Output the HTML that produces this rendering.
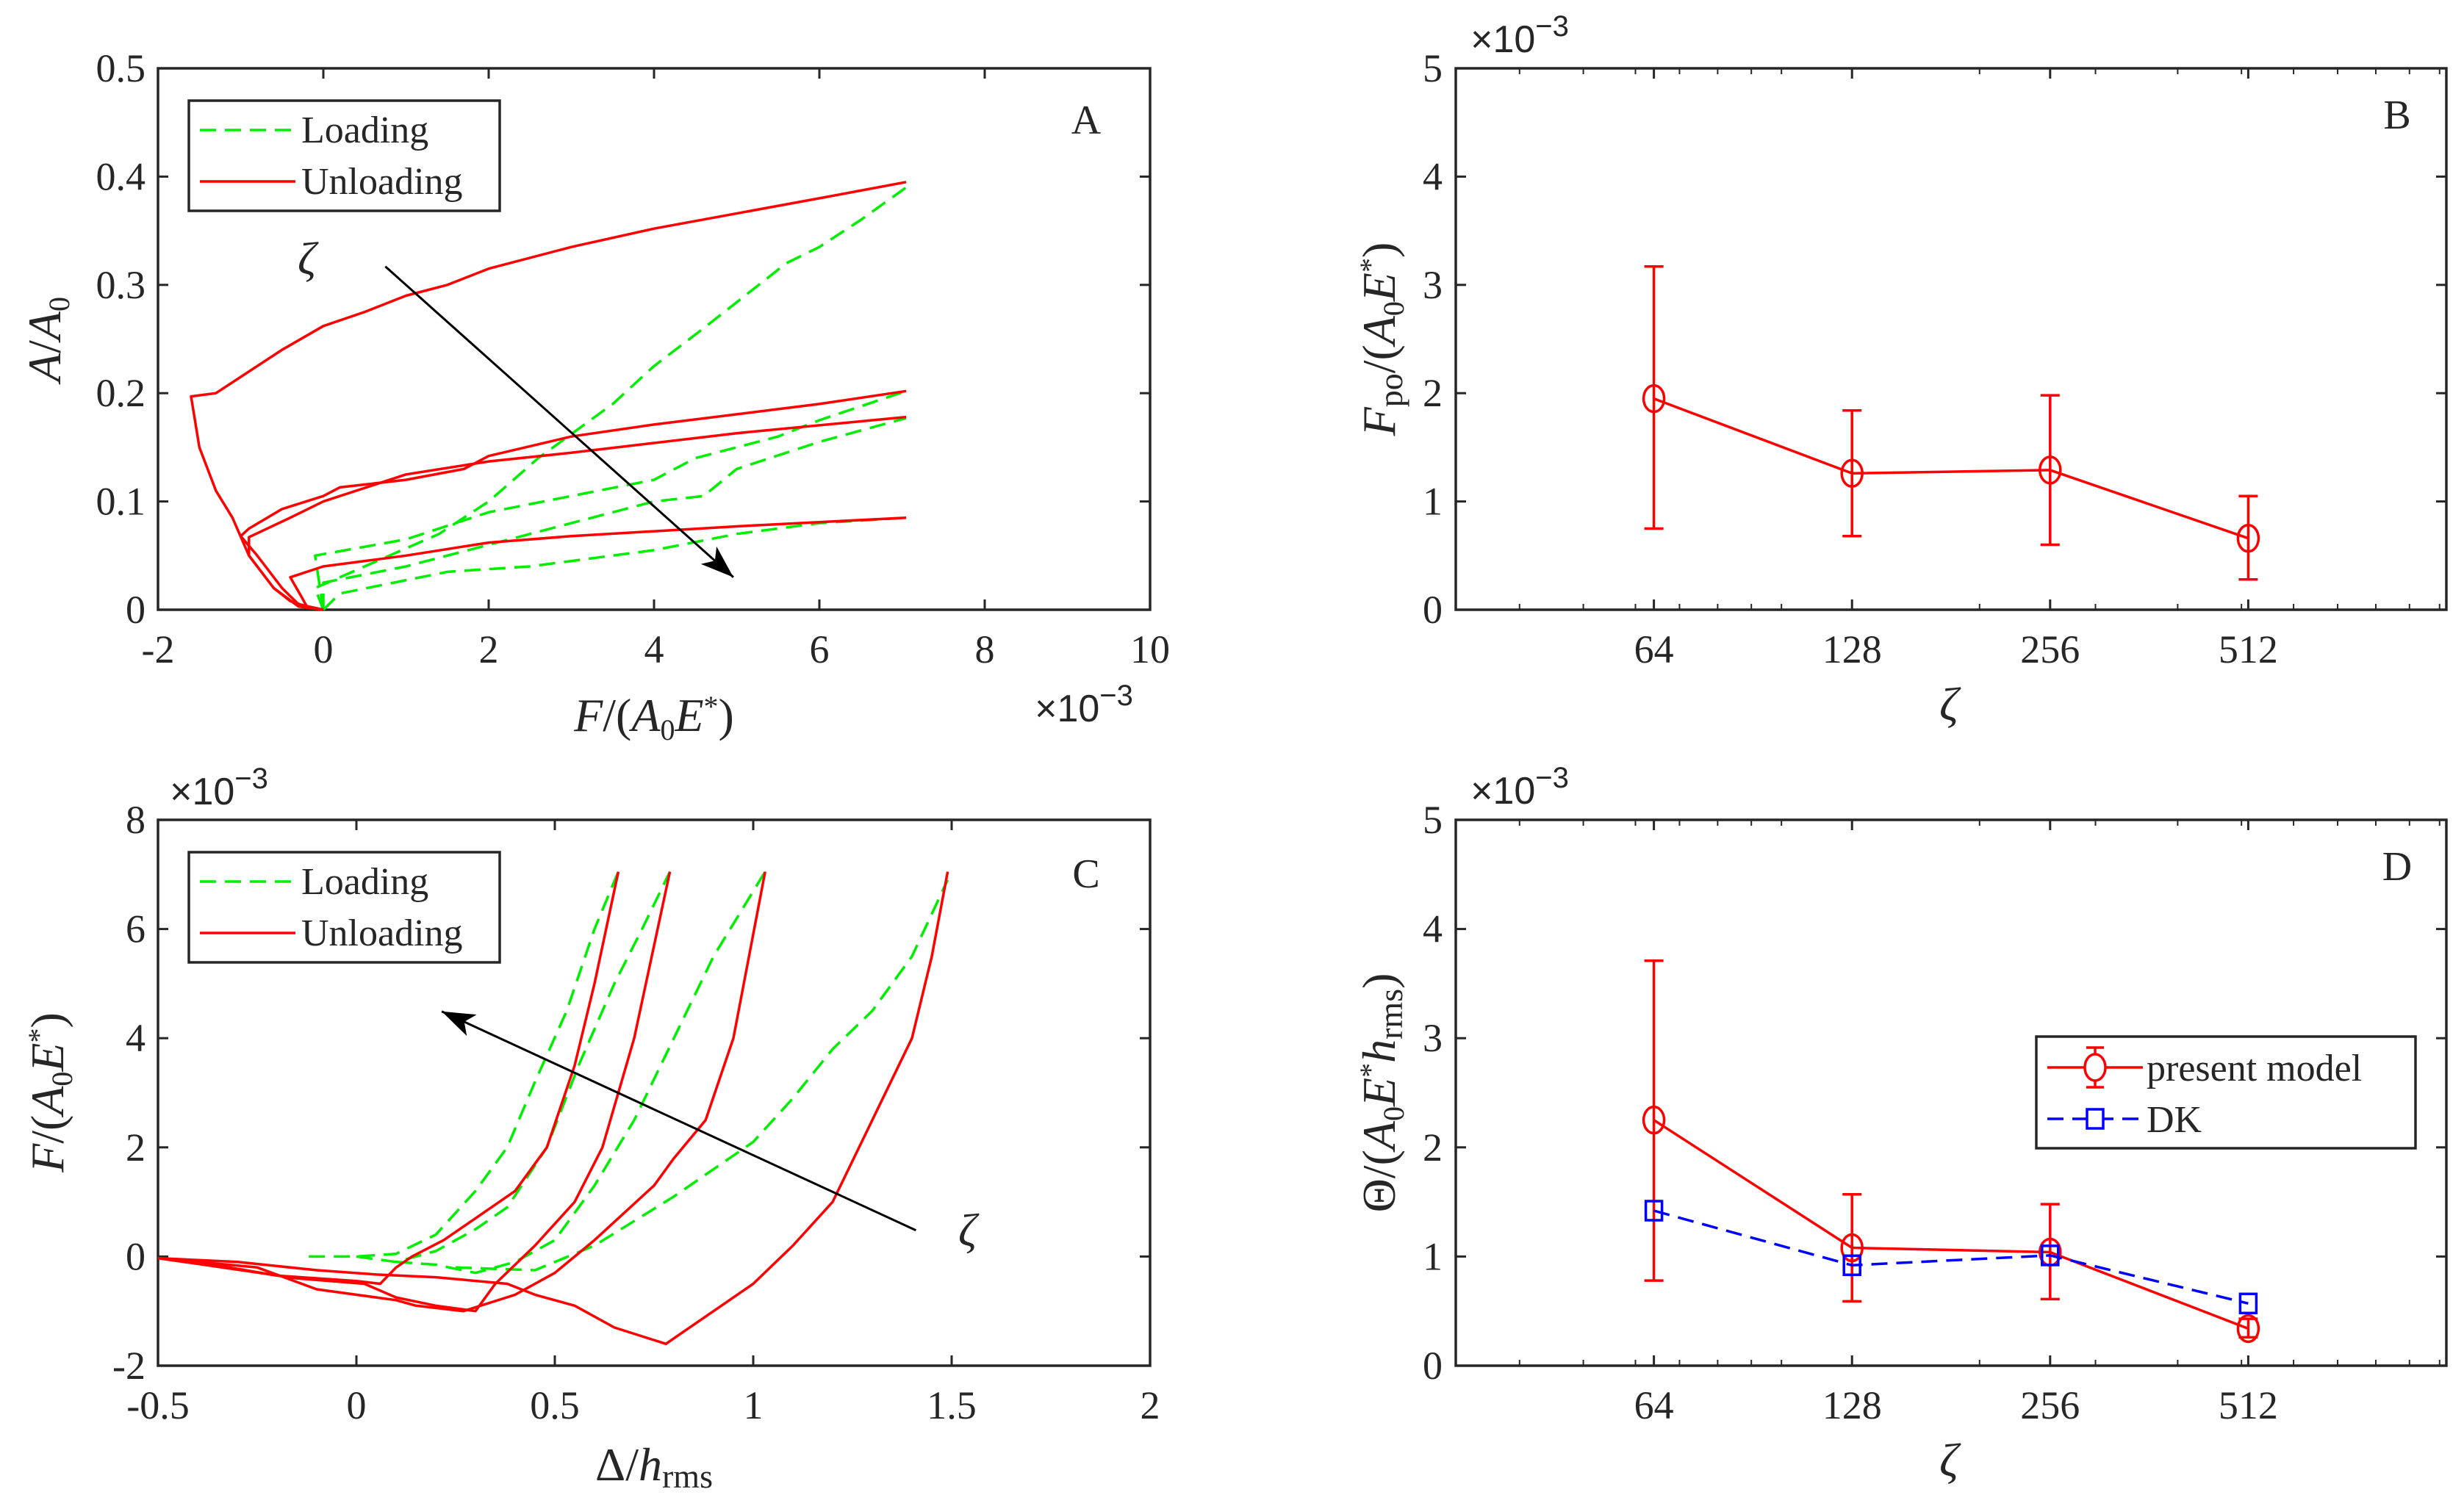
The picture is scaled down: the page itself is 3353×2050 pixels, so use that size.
<!DOCTYPE html>
<html><head><meta charset="utf-8"><style>
html,body{margin:0;padding:0;background:#fff;width:3353px;height:2050px;overflow:hidden}
svg text{font-family:"Liberation Serif",serif;fill:#262626}
</style></head><body>
<svg id="fig" width="3353" height="2050" viewBox="0 0 3353 2050" xmlns="http://www.w3.org/2000/svg"></svg>
<script>
// ---------- DATA ----------
const zetaCats = [64,128,256,512];
const fpoMean = [1.95,1.26,1.29,0.66];
const fpoLow  = [0.75,0.68,0.60,0.28];
const fpoHigh = [3.17,1.84,1.98,1.05];
const thetaMean = [2.25,1.08,1.04,0.34];
const thetaLow  = [0.78,0.59,0.61,0.26];
const thetaHigh = [3.71,1.57,1.48,0.43];
const dkValues  = [1.42,0.92,1.01,0.57];

const aUnload1X=[7.05,6,4,3,2,1.5,1,0.5,0,-0.5,-1,-1.3,-1.6,-1.5,-1.3,-1.1,-0.9,-0.6,-0.4,-0.2,0];
const aUnload1Y=[0.395,0.38,0.352,0.335,0.315,0.30,0.29,0.275,0.262,0.24,0.215,0.20,0.197,0.15,0.11,0.085,0.05,0.02,0.008,0.003,0];
const aUnload2X=[7.05,6,4,3,2,1.7,1,0.2,0,-0.5,-0.9,-1.0,-0.8,-0.5,-0.3,0];
const aUnload2Y=[0.202,0.19,0.171,0.16,0.142,0.13,0.12,0.113,0.105,0.093,0.075,0.068,0.05,0.02,0.005,0];
const aUnload3X=[7.05,5,3,2,1,0,-0.4,-0.9,-0.9,-0.6,-0.3,0];
const aUnload3Y=[0.178,0.163,0.145,0.137,0.125,0.10,0.085,0.067,0.05,0.02,0.003,0];
const aUnload4X=[7.05,5,3,2,1,0,-0.4,-0.25,-0.2,0];
const aUnload4Y=[0.085,0.077,0.068,0.062,0.05,0.04,0.03,0.01,0.003,0];
const aLoad1X=[0,-0.1,0.5,1.4,2,2.6,3.5,4,4.6,5.1,5.6,6,6.5,7.05];
const aLoad1Y=[0,0.02,0.04,0.07,0.1,0.14,0.19,0.225,0.26,0.29,0.32,0.335,0.36,0.39];
const aLoad2X=[0,-0.1,1,2,3,4,4.5,5.5,6,7.05];
const aLoad2Y=[0,0.05,0.065,0.09,0.105,0.12,0.14,0.16,0.175,0.202];
const aLoad3X=[0,0,1,2,3,4,4.6,5,6,7.05];
const aLoad3Y=[0,0.025,0.04,0.06,0.08,0.1,0.105,0.13,0.155,0.177];
const aLoad4X=[0,0.2,1.5,2.5,4,5,6,7.05];
const aLoad4Y=[0,0.015,0.035,0.04,0.055,0.07,0.08,0.085];

const cUnload1X=[0.66,0.6,0.55,0.48,0.4,0.3,0.22,0.14,0.1,0.06,0,-0.2,-0.4,-0.5];
const cUnload1Y=[7.05,5,3.5,2,1.2,0.7,0.3,0,-0.2,-0.5,-0.45,-0.35,-0.1,-0.03];
const cUnload2X=[0.79,0.7,0.62,0.55,0.45,0.35,0.3,0.2,0.1,0.02,-0.15,-0.5];
const cUnload2Y=[7.05,4,2,1,0.2,-0.5,-1.0,-0.9,-0.75,-0.5,-0.4,-0.03];
const cUnload3X=[1.03,0.95,0.88,0.8,0.75,0.6,0.5,0.4,0.27,0.15,0.1,-0.1,-0.25,-0.5];
const cUnload3Y=[7.05,4,2.5,1.8,1.3,0.3,-0.3,-0.7,-1.0,-0.9,-0.8,-0.6,-0.2,-0.03];
const cUnload4X=[1.49,1.45,1.4,1.3,1.2,1.1,1.0,0.9,0.8,0.78,0.65,0.55,0.45,0.38,0.2,0.05,-0.1,-0.3,-0.5];
const cUnload4Y=[7.05,5.5,4,2.5,1,0.2,-0.5,-1.0,-1.5,-1.6,-1.3,-0.9,-0.7,-0.5,-0.38,-0.33,-0.25,-0.1,-0.03];
const cLoad1X=[-0.12,0,0.1,0.2,0.3,0.38,0.45,0.53,0.6,0.66];
const cLoad1Y=[0,0,0.05,0.4,1.2,2,3.2,4.5,6,7.05];
const cLoad2X=[0,0.1,0.2,0.3,0.38,0.48,0.56,0.65,0.72,0.79];
const cLoad2Y=[0,-0.1,0.1,0.5,0.9,2,3.5,5,6,7.05];
const cLoad3X=[0.1,0.2,0.3,0.4,0.5,0.6,0.7,0.8,0.9,1.03];
const cLoad3Y=[-0.1,-0.15,-0.3,-0.1,0.3,1.3,2.5,4,5.5,7.05];
const cLoad4X=[0.25,0.45,0.6,0.8,1.0,1.1,1.2,1.3,1.4,1.49];
const cLoad4Y=[-0.2,-0.25,0.2,1.1,2.1,2.9,3.8,4.5,5.5,6.9];

const aXTicks=[-2,0,2,4,6,8,10], aYTicks=[0,0.1,0.2,0.3,0.4,0.5];
const cXTicks=[-0.5,0,0.5,1,1.5,2], cYTicks=[-2,0,2,4,6,8];
const bYTicks=[0,1,2,3,4,5];
const minorTicks=[40,50,60,70,80,90,100,200,300,400,500,600,700,800,900,1000];

// ---------- helpers ----------
const svg=document.getElementById('fig');
const NS='http://www.w3.org/2000/svg';
const TS=54, AS=64, SW=3.5;
function mk(tag,attrs,parent){const e=document.createElementNS(NS,tag);for(const k in attrs)e.setAttribute(k,attrs[k]);(parent||svg).appendChild(e);return e;}
function txt(s,x,y,size,anchor,parent,style){const t=mk('text',{x:x,y:y,'font-size':size,'text-anchor':anchor||'middle'},parent);if(style)t.setAttribute('style',style);t.innerHTML=s;return t;}
function lin(x0,x1,p0,p1){return v=>p0+(v-x0)/(x1-x0)*(p1-p0);}
function poly(xs,ys,sx,sy,stroke,dash,name,g){const d=xs.map((x,i)=>(i?'L':'M')+sx(x).toFixed(1)+' '+sy(ys[i]).toFixed(1)).join(' ');
 const p=mk('path',{d:d,fill:'none',stroke:stroke,'stroke-width':SW,'stroke-dasharray':dash||'none','stroke-linejoin':'round'},g);
 
 
 return p;}
function frame(L,R,T,B,name){const g=mk('g',{});
 mk('rect',{x:L,y:T,width:R-L,height:B-T,fill:'#fff',stroke:'#262626','stroke-width':3.5},g);return g;}
function xticks(g,ticks,sx,T,B,labels,ly){ticks.forEach((t,i)=>{const x=sx(t);mk('line',{x1:x,x2:x,y1:B,y2:B-14,stroke:'#262626','stroke-width':3},g);mk('line',{x1:x,x2:x,y1:T,y2:T+14,stroke:'#262626','stroke-width':3},g);
 if(labels){const l=txt(labels[i],x,ly,TS,'middle',g);}});}
function yticks(g,ticks,sy,L,R,labels,lx){ticks.forEach((t,i)=>{const y=sy(t);mk('line',{x1:L,x2:L+14,y1:y,y2:y,stroke:'#262626','stroke-width':3},g);mk('line',{x1:R,x2:R-14,y1:y,y2:y,stroke:'#262626','stroke-width':3},g);
 const l=txt(labels[i],lx,y+18,TS,'end',g);});}
function arrow(g,x1,y1,x2,y2,name){const a=mk('g',{},g);
 mk('line',{x1:x1,y1:y1,x2:x2,y2:y2,stroke:'#000','stroke-width':3},a);
 const ang=Math.atan2(y2-y1,x2-x1),L=45,W=16;const bx=x2-L*Math.cos(ang),by=y2-L*Math.sin(ang);
 const px=-Math.sin(ang)*W,py=Math.cos(ang)*W;
 mk('polygon',{points:`${x2},${y2} ${bx+px},${by+py} ${bx+L*0.25*Math.cos(ang)},${by+L*0.25*Math.sin(ang)} ${bx-px},${by-py}`,fill:'#000'},a);}
function legendLD(g,x,y){const lg=mk('g',{},g);
 mk('rect',{x:x,y:y,width:423,height:150,fill:'#fff',stroke:'#262626','stroke-width':3.5},lg);
 mk('line',{x1:x+15,x2:x+145,y1:y+40,y2:y+40,stroke:'#00ee00','stroke-width':SW,'stroke-dasharray':'22 12'},lg);
 const t1=txt('Loading',x+153,y+57,52,'start',lg);
 mk('line',{x1:x+15,x2:x+145,y1:y+110,y2:y+110,stroke:'#ff0000','stroke-width':SW},lg);
 const t2=txt('Unloading',x+153,y+127,52,'start',lg);}
const xlog=L=>v=>L+(Math.log2(v)-5)*269.6;
const EXP='×10<tspan font-size="40" dy="-22">−3</tspan>';

// ---------- Panel A ----------
{const L=215,R=1565,T=93,B=830;const g=frame(L,R,T,B,'panel-a');
 const sx=lin(-2,10,L,R),sy=lin(0,0.5,B,T);
 xticks(g,aXTicks,sx,T,B,aXTicks.map(String),B+72);
 yticks(g,aYTicks,sy,L,R,aYTicks.map(v=>v===0?'0':v.toFixed(1)),198);
 const G='#00ee00',D='22 12';
 poly(aLoad1X,aLoad1Y,sx,sy,G,D,'loading-curve-1',g);poly(aLoad2X,aLoad2Y,sx,sy,G,D,'loading-curve-2',g);
 poly(aLoad3X,aLoad3Y,sx,sy,G,D,'loading-curve-3',g);poly(aLoad4X,aLoad4Y,sx,sy,G,D,'loading-curve-4',g);
 poly(aUnload1X,aUnload1Y,sx,sy,'#ff0000',null,'unloading-curve-1',g);poly(aUnload2X,aUnload2Y,sx,sy,'#ff0000',null,'unloading-curve-2',g);
 poly(aUnload3X,aUnload3Y,sx,sy,'#ff0000',null,'unloading-curve-3',g);poly(aUnload4X,aUnload4Y,sx,sy,'#ff0000',null,'unloading-curve-4',g);
 arrow(g,sx(0.75),sy(0.317),sx(4.96),sy(0.03),'zeta-arrow');
 const z=txt('ζ',sx(-0.2),sy(0.31),62,'middle',g,'font-style:italic');
 legendLD(g,257,137);
 const pl=txt('A',1478,182,56,'middle',g);
 const xl=txt('<tspan font-style="italic">F</tspan>/(<tspan font-style="italic">A</tspan><tspan font-size="40" dy="12">0</tspan><tspan font-style="italic" dy="-12">E</tspan><tspan font-size="40" dy="-20">*</tspan><tspan dy="20">)</tspan>',890,995,AS,'middle',g);
 
 const ex=txt(EXP,1475,982,52,'middle',g,'font-family:Liberation Sans');
 const yl=txt('<tspan font-style="italic">A</tspan>/<tspan font-style="italic">A</tspan><tspan font-size="40" dy="12">0</tspan>',0,0,AS,'middle',g);
 yl.setAttribute('transform','translate(82,462) rotate(-90)');}

// ---------- Panel C ----------
{const L=215,R=1565,T=1116,B=1859;const g=frame(L,R,T,B,'panel-c');
 const sx=lin(-0.5,2,L,R),sy=lin(-2,8,B,T);
 xticks(g,cXTicks,sx,T,B,cXTicks.map(String),B+72);
 yticks(g,cYTicks,sy,L,R,cYTicks.map(String),198);
 const G='#00ee00',D='22 12';
 poly(cLoad1X,cLoad1Y,sx,sy,G,D,'loading-curve-1',g);poly(cLoad2X,cLoad2Y,sx,sy,G,D,'loading-curve-2',g);
 poly(cLoad3X,cLoad3Y,sx,sy,G,D,'loading-curve-3',g);poly(cLoad4X,cLoad4Y,sx,sy,G,D,'loading-curve-4',g);
 poly(cUnload1X,cUnload1Y,sx,sy,'#ff0000',null,'unloading-curve-1',g);poly(cUnload2X,cUnload2Y,sx,sy,'#ff0000',null,'unloading-curve-2',g);
 poly(cUnload3X,cUnload3Y,sx,sy,'#ff0000',null,'unloading-curve-3',g);poly(cUnload4X,cUnload4Y,sx,sy,'#ff0000',null,'unloading-curve-4',g);
 arrow(g,sx(1.41),sy(0.48),sx(0.215),sy(4.49),'zeta-arrow');
 const z=txt('ζ',sx(1.54),sy(0.2),62,'middle',g,'font-style:italic');
 legendLD(g,257,1160);
 const pl=txt('C',1478,1208,56,'middle',g);
 const xl=txt('Δ/<tspan font-style="italic">h</tspan><tspan font-size="46" dy="10">rms</tspan>',890,2015,AS,'middle',g);
 
 const ex=txt(EXP,298,1095,52,'middle',g,'font-family:Liberation Sans');
 const yl=txt('<tspan font-style="italic">F</tspan>/(<tspan font-style="italic">A</tspan><tspan font-size="40" dy="12">0</tspan><tspan font-style="italic" dy="-12">E</tspan><tspan font-size="40" dy="-20">*</tspan><tspan dy="20">)</tspan>',0,0,AS,'middle',g);
 yl.setAttribute('transform','translate(86,1487) rotate(-90)');}

// ---------- Panels B & D ----------
function catPanel(T,B,name,letter,meanA,lowA,highA,dk,ytitle){
 const L=1981,R=3329;const g=frame(L,R,T,B,name);
 const sx=xlog(L),sy=lin(0,5,B,T);
 minorTicks.forEach(m=>{const x=sx(m);mk('line',{x1:x,x2:x,y1:B,y2:B-8,stroke:'#262626','stroke-width':2},g);mk('line',{x1:x,x2:x,y1:T,y2:T+8,stroke:'#262626','stroke-width':2},g);});
 xticks(g,zetaCats,sx,T,B,zetaCats.map(String),B+72);
 yticks(g,bYTicks,sy,L,R,bYTicks.map(String),1963);
 zetaCats.forEach((c,i)=>{const x=sx(c);const eb=mk('g',{},g);
  mk('line',{x1:x,x2:x,y1:sy(lowA[i]),y2:sy(highA[i]),stroke:'#ff0000','stroke-width':SW},eb);
  [lowA[i],highA[i]].forEach(v=>mk('line',{x1:x-13,x2:x+13,y1:sy(v),y2:sy(v),stroke:'#ff0000','stroke-width':SW},eb));});
 poly(zetaCats,meanA,sx,sy,'#ff0000',null,'present-model-line',g);
 zetaCats.forEach((c,i)=>{const m=mk('ellipse',{cx:sx(c),cy:sy(meanA[i]),rx:14,ry:18,fill:'none',stroke:'#ff0000','stroke-width':SW},g);
  });
 if(dk){poly(zetaCats,dk,sx,sy,'#0000ff','22 12','dk-line',g);
  zetaCats.forEach((c,i)=>{const m=mk('rect',{x:sx(c)-11,y:sy(dk[i])-13,width:22,height:26,fill:'none',stroke:'#0000ff','stroke-width':SW},g);
   });}
 const pl=txt(letter,3262,T+82,56,'middle',g);
 const xl=txt('ζ',2652,B+150,AS,'middle',g,'font-style:italic');
 const ex=txt(EXP,2068,T-22,52,'middle',g,'font-family:Liberation Sans');
 const yl=txt(ytitle,0,0,AS,'middle',g);yl.setAttribute('transform',`translate(1898,${(T+B)/2}) rotate(-90)`);
 return g;}
catPanel(93,830,'panel-b','B',fpoMean,fpoLow,fpoHigh,null,
 '<tspan font-style="italic">F</tspan><tspan font-size="46" dy="10">po</tspan><tspan dy="-10">/(</tspan><tspan font-style="italic">A</tspan><tspan font-size="40" dy="12">0</tspan><tspan font-style="italic" dy="-12">E</tspan><tspan font-size="40" dy="-20">*</tspan><tspan dy="20">)</tspan>');
const gD=catPanel(1116,1859,'panel-d','D',thetaMean,thetaLow,thetaHigh,dkValues,
 'Θ/(<tspan font-style="italic">A</tspan><tspan font-size="40" dy="12">0</tspan><tspan font-style="italic" dy="-12">E</tspan><tspan font-size="40" dy="-20">*</tspan><tspan font-style="italic" dy="20">h</tspan><tspan font-size="46" dy="10">rms</tspan><tspan dy="-10">)</tspan>');
{const x=2771,y=1411;const lg=mk('g',{},gD);
 mk('rect',{x:x,y:y,width:516,height:152,fill:'#fff',stroke:'#262626','stroke-width':3.5},lg);
 mk('line',{x1:x+15,x2:x+145,y1:y+42,y2:y+42,stroke:'#ff0000','stroke-width':SW},lg);
 mk('line',{x1:x+80,x2:x+80,y1:y+15,y2:y+69,stroke:'#ff0000','stroke-width':SW},lg);
 mk('line',{x1:x+68,x2:x+92,y1:y+15,y2:y+15,stroke:'#ff0000','stroke-width':SW},lg);
 mk('line',{x1:x+68,x2:x+92,y1:y+69,y2:y+69,stroke:'#ff0000','stroke-width':SW},lg);
 mk('ellipse',{cx:x+80,cy:y+42,rx:14,ry:18,fill:'#fff',stroke:'#ff0000','stroke-width':SW},lg);
 const t1=txt('present model',x+150,y+60,52,'start',lg);
 mk('line',{x1:x+15,x2:x+145,y1:y+112,y2:y+112,stroke:'#0000ff','stroke-width':SW,'stroke-dasharray':'22 12'},lg);
 mk('rect',{x:x+69,y:y+99,width:22,height:26,fill:'#fff',stroke:'#0000ff','stroke-width':SW},lg);
 const t2=txt('DK',x+150,y+130,52,'start',lg);}
</script>
</body></html>
